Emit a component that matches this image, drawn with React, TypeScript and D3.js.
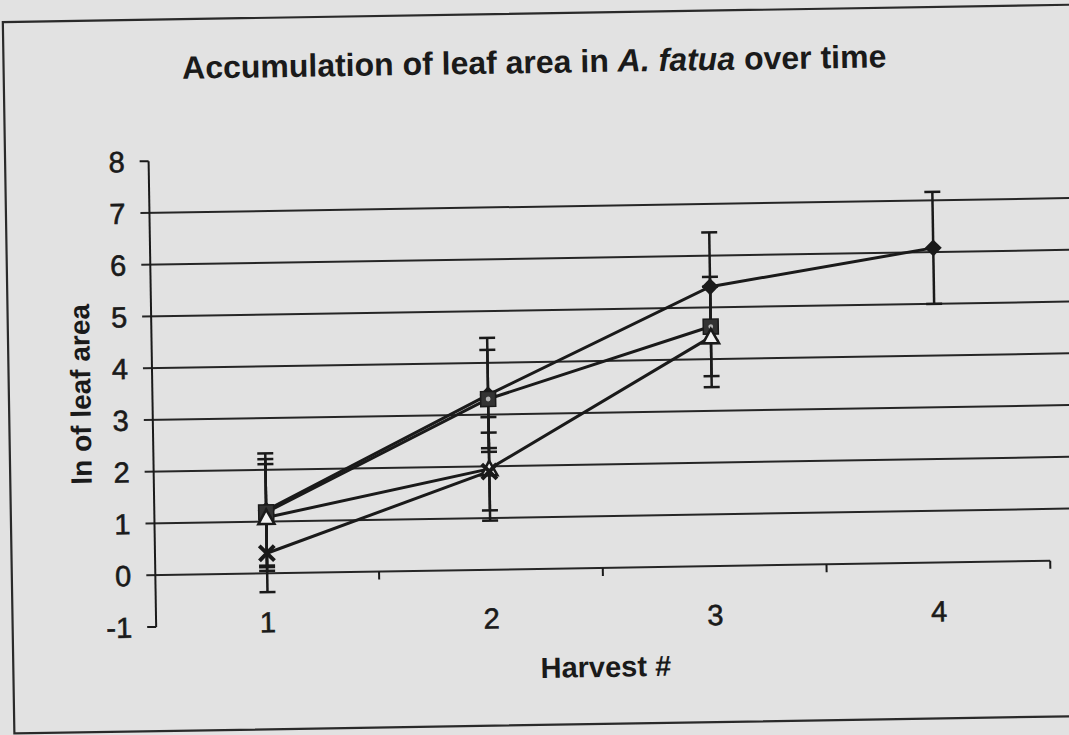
import React from "react";
import * as d3 from "d3";

const harvests = [1, 2, 3, 4];
const yTicks = [-1, 0, 1, 2, 3, 4, 5, 6, 7, 8];
const gridValues = [0, 1, 2, 3, 4, 5, 6, 7];

const diamondMean = [1.22, 3.38, 5.4, 6.08];
const diamondErr = [1.1, 1.1, 1.05, 1.08];
const squareMean = [1.18, 3.3, 4.63];
const squareErr = [1.03, 0.95, 0.96];
const triangleMean = [1.08, 1.95, 4.43];
const triangleErr = [1.03, 1.0, 0.97];
const crossMean = [0.39, 1.9];
const crossErr = [0.75, 0.75];

type Series = { name: string; marker: string; mean: number[]; err: number[] };
const series: Series[] = [
  { name: "diamond", marker: "diamond", mean: diamondMean, err: diamondErr },
  { name: "square", marker: "square", mean: squareMean, err: squareErr },
  { name: "triangle", marker: "triangle", mean: triangleMean, err: triangleErr },
  { name: "cross", marker: "cross", mean: crossMean, err: crossErr },
];

const W = 1069;
const H = 735;
const INK = "#1a1a1a";
const FONT = "'Liberation Sans', Arial, sans-serif";

export default function App() {
  const x = d3.scaleBand<number>().domain(harvests).range([152, 1047]);
  const y = d3.scaleLinear().domain([-1, 8]).range([620.8, 155]);
  const cx = (h: number) => (x(h) as number) + x.bandwidth() / 2;
  const line = d3
    .line<number>()
    .x((_, i) => cx(harvests[i]))
    .y((v) => y(v));
  const boundaries = harvests.map((h) => (x(h) as number) + x.bandwidth());

  const marker = (kind: string, px: number, py: number, key: string) => {
    if (kind === "diamond") {
      const s = 8.5;
      return (
        <path key={key} d={`M${px},${py - s}L${px + s},${py}L${px},${py + s}L${px - s},${py}Z`} fill={INK} />
      );
    }
    if (kind === "square") {
      const s = 7.5;
      return (
        <g key={key}>
          <rect x={px - s} y={py - s} width={2 * s} height={2 * s} fill="#333" stroke={INK} strokeWidth={1.5} />
          <circle cx={px} cy={py} r={2.4} fill="#b5b5b5" />
        </g>
      );
    }
    if (kind === "triangle") {
      const s = 8;
      return (
        <path
          key={key}
          d={`M${px},${py - s}L${px + s},${py + s * 0.8}L${px - s},${py + s * 0.8}Z`}
          fill="#f2f2f2"
          stroke={INK}
          strokeWidth={2.6}
        />
      );
    }
    const s = 7.5;
    return (
      <path
        key={key}
        d={`M${px - s},${py - s}L${px + s},${py + s}M${px + s},${py - s}L${px - s},${py + s}`}
        stroke={INK}
        strokeWidth={4}
      />
    );
  };

  return (
    <svg width={W} height={H} style={{ position: "absolute", left: 0, top: 0, display: "block" }}>
      <rect x={0} y={0} width={W} height={H} fill="#e2e2e2" />
      <g transform="rotate(-0.93 534 367)">
        <rect x={8.5} y={13.5} width={1100} height={711.5} fill="none" stroke="#2a2a2a" strokeWidth={2.2} />
        <text x={187} y={73} fontFamily={FONT} fontWeight="bold" fontSize={32} fill={INK}>
          Accumulation of leaf area in <tspan fontStyle="italic">A. fatua</tspan>
          <tspan dx={9}>over time</tspan>
        </text>

        {gridValues.map((v) => (
          <line key={"g" + v} x1={143} x2={v === 0 ? 1047 : 1085} y1={y(v)} y2={y(v)} stroke="#262626" strokeWidth={2} />
        ))}
        <line x1={152} x2={152} y1={y(8)} y2={y(-1)} stroke={INK} strokeWidth={2} />
        <line x1={143} x2={152} y1={y(8)} y2={y(8)} stroke={INK} strokeWidth={2} />
        <line x1={143} x2={152} y1={y(-1)} y2={y(-1)} stroke={INK} strokeWidth={2} />
        {boundaries.map((b, i) => (
          <line key={"t" + i} x1={b} x2={b} y1={y(0)} y2={y(0) + 8} stroke={INK} strokeWidth={2} />
        ))}
        {yTicks.map((v) => (
          <text
            key={"yl" + v}
            x={128}
            y={y(v)}
            dy="0.36em"
            textAnchor="end"
            fontFamily={FONT}
            fontSize={29}
            fill={INK}
            stroke={INK}
            strokeWidth={0.6}
          >
            {v}
          </text>
        ))}
        {harvests.map((h) => (
          <text
            key={"xl" + h}
            x={cx(h)}
            y={628}
            textAnchor="middle"
            fontFamily={FONT}
            fontSize={29}
            fill={INK}
            stroke={INK}
            strokeWidth={0.6}
          >
            {h}
          </text>
        ))}
        <text x={601} y={678} textAnchor="middle" fontFamily={FONT} fontWeight="bold" fontSize={29} fill={INK}>
          Harvest #
        </text>
        <text
          transform={`translate(90,387) rotate(-90)`}
          textAnchor="middle"
          fontFamily={FONT}
          fontWeight="bold"
          fontSize={28}
          fill={INK}
        >
          ln of leaf area
        </text>

        {series.map((s) => (
          <path key={"l" + s.name} d={line(s.mean) || ""} fill="none" stroke={INK} strokeWidth={3} />
        ))}
        {series.map((s) =>
          s.mean.map((m, i) => {
            const px = cx(harvests[i]);
            const hi = y(m + s.err[i]);
            const lo = y(m - s.err[i]);
            return (
              <g key={"e" + s.name + i} stroke={INK} strokeWidth={2.5}>
                <line x1={px} x2={px} y1={hi} y2={lo} />
                <line x1={px - 8} x2={px + 8} y1={hi} y2={hi} />
                <line x1={px - 8} x2={px + 8} y1={lo} y2={lo} />
              </g>
            );
          })
        )}
        {series.map((s) => s.mean.map((m, i) => marker(s.marker, cx(harvests[i]), y(m), "m" + s.name + i)))}
      </g>
    </svg>
  );
}
